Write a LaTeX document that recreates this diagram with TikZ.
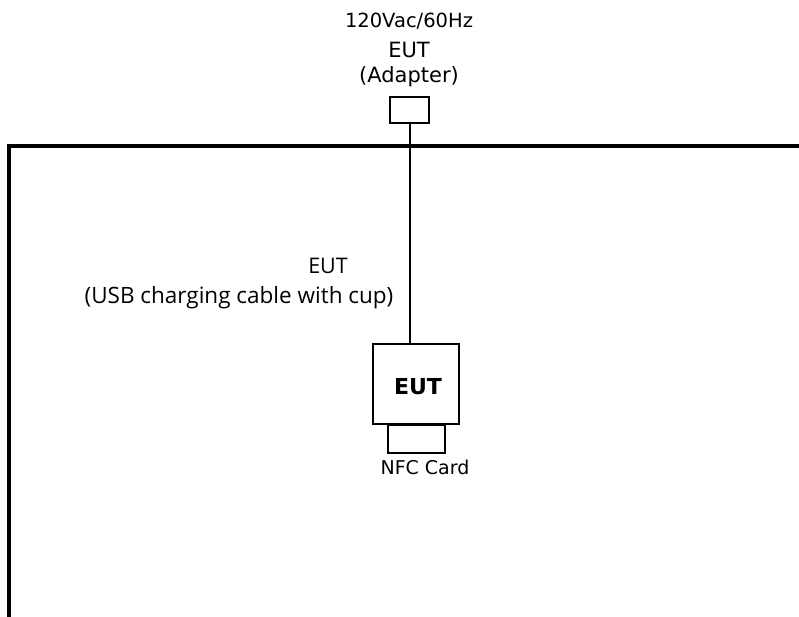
\documentclass[tikz,border=0pt]{standalone}
\usepackage{fontspec}
\setmainfont{DejaVu Sans}
\newfontfamily\segoe{Open Sans}
\begin{document}
\begin{tikzpicture}[x=1pt,y=-1pt,
  thinbox/.style={draw=black,line width=2.2pt,minimum width=#1,inner sep=0pt},
  lbl/.style={inner sep=0pt,anchor=center},
  cable/.style={draw=black,line width=2pt},
  frameline/.style={draw=black,line width=4.8pt,line join=miter}]
\useasboundingbox (0,0) rectangle (799,616);
% frame
\draw[frameline] (9,630) -- (9,146) -- (810,146);
% adapter
\node[thinbox=39pt,minimum height=26pt] (adp) at (409.5,110) {};
\node[lbl,font=\fontsize{19.5}{20}\selectfont] (t1) at (409,21) {120Vac/60Hz};
\node[lbl,font=\fontsize{21}{22}\selectfont] (t2) at (409,50) {EUT};
\node[lbl,font=\fontsize{21}{22}\selectfont] (t3) at (409,77) {(Adapter)};
% EUT box
\node[thinbox=86pt,minimum height=80pt] (eut) at (416,384) {};
\node[lbl,font=\fontsize{22}{23}\selectfont\bfseries] (t4) at (418,387) {EUT};
\node[thinbox=57pt,minimum height=28pt,anchor=north] (nfc) at (416.5,424) {};
\node[lbl,font=\fontsize{19}{20}\selectfont] (t5) at (425,467) {NFC Card};
% cable
\draw[cable] (adp.south) -- (eut.north -| adp.south);
\node[lbl,font=\segoe\fontsize{21.5}{22}\selectfont] (t6) at (328,266) {EUT};
\node[lbl,font=\segoe\fontsize{22.5}{23}\selectfont] (t7) at (239,298) {(USB charging cable with cup)};
\end{tikzpicture}
\end{document}
